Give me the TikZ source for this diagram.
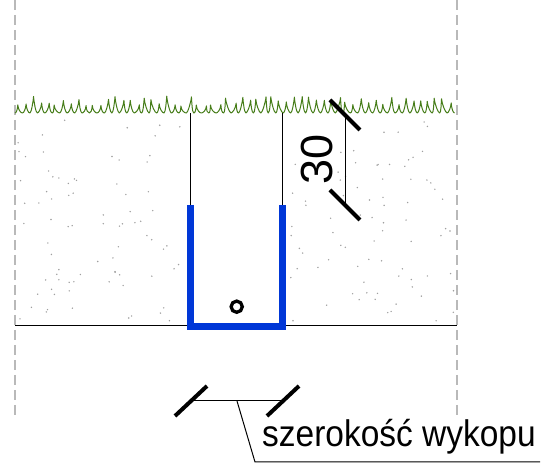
\documentclass[tikz,border=0pt]{standalone}
\usepackage{fontspec}
\setmainfont{Liberation Sans}
\usepackage{graphicx}
\usetikzlibrary{calc}
\definecolor{grassGreen}{RGB}{70,125,25}
\definecolor{pipeBlue}{RGB}{0,55,215}

\begin{document}
\begin{tikzpicture}
[x=1pt,y=1pt,
  axisDecorate/.style={gray!55,line width=1.3pt,dash pattern=on 10pt off 5pt},%
  grassDecorate/.style={grassGreen,line width=1pt,line join=round},%
  soilDecorate/.style={gray!75},%
  lineDecorate/.style={black,line width=1.3pt},%
  trenchDecorate/.style={pipeBlue,line width=6.5pt,line join=miter},%
  tickDecorate/.style={black,line width=4pt},%
  dimDecorate/.style={black,line width=1pt}]
\useasboundingbox (0,0) rectangle (552,463);
%% points of the trench
\foreach \pointname/\x/\y in {
  groundL/15/137.3, groundR/457/137.3, surfL/15/350, surfR/457/350,
  trenchTL/190.7/258, trenchBL/190.7/136.7, trenchBR/282.5/136.7, trenchTR/282.5/258,
  wallTL/190.7/350, wallTR/282.5/350,
  depthTop/345/348, depthBot/345/258, widthL/191/62, widthR/283/62,
  widthMid/237/62, leaderKnee/255/1, leaderEnd/540/1}
{
  \coordinate (\pointname) at (\x,\y);
}
%% axis lines
\foreach \x in {15,457}
{
  \draw[axisDecorate] (\x,463) -- (\x,48);
}
%% soil dots
\pgfmathsetseed{11}
\foreach \xa/\xb in {18/184, 290/455}
{
  \foreach \i in {1,...,80}
  {
    \pgfmathsetmacro\px{\xa+(\xb-\xa)*rnd}
    \pgfmathsetmacro\py{141+205*rnd}
    \fill[soilDecorate] (\px,\py) circle (0.8);
  };
}
%% grass
\draw[grassDecorate] (surfL)
\foreach \i [evaluate=\i as \h using {7+10*rnd},
             evaluate=\i as \w using {1.8+3.4*rnd}] in {1,...,59}
{
  .. controls +(1.4,0) and +(-0.4,-5) .. ++(\w,\h)
  .. controls +(0.3,-5) and +(-1.6,0) .. ++(7.45-\w,-\h)
};
%% ground line and trench walls
\draw[lineDecorate] (groundL) -- (groundR);
\draw[lineDecorate] (wallTL) -- (trenchTL);
\draw[lineDecorate] (wallTR) -- (trenchTR);
\draw[trenchDecorate] (trenchTL) -- (trenchBL) -- (trenchBR) -- (trenchTR);
\draw[black,line width=3.3pt] (236.7,156.3) circle (5.6);
%% depth dimension
\draw[dimDecorate] (depthTop) -- (depthBot);
\foreach \p in {depthTop,depthBot}
{
  \draw[tickDecorate] ($(\p)+(-15,15)$) -- ($(\p)+(15,-15)$);
}
\node (depthLabel) at (317,303.5) [rotate=90,inner sep=0pt]
  {\fontsize{45}{48}\selectfont 30};
%% width dimension
\draw[dimDecorate] (widthL) -- (widthR);
\foreach \p in {widthL,widthR}
{
  \draw[tickDecorate] ($(\p)+(-16,-15)$) -- ($(\p)+(16,15)$);
}
\node (widthLabel) at (262,16) [anchor=base west,inner sep=0pt]
  {\scalebox{0.905}[1]{\fontsize{37}{40}\selectfont szerokość wykopu}};
\draw[dimDecorate] (widthMid) -- (leaderKnee) -- (leaderEnd);
\end{tikzpicture}
\end{document}
